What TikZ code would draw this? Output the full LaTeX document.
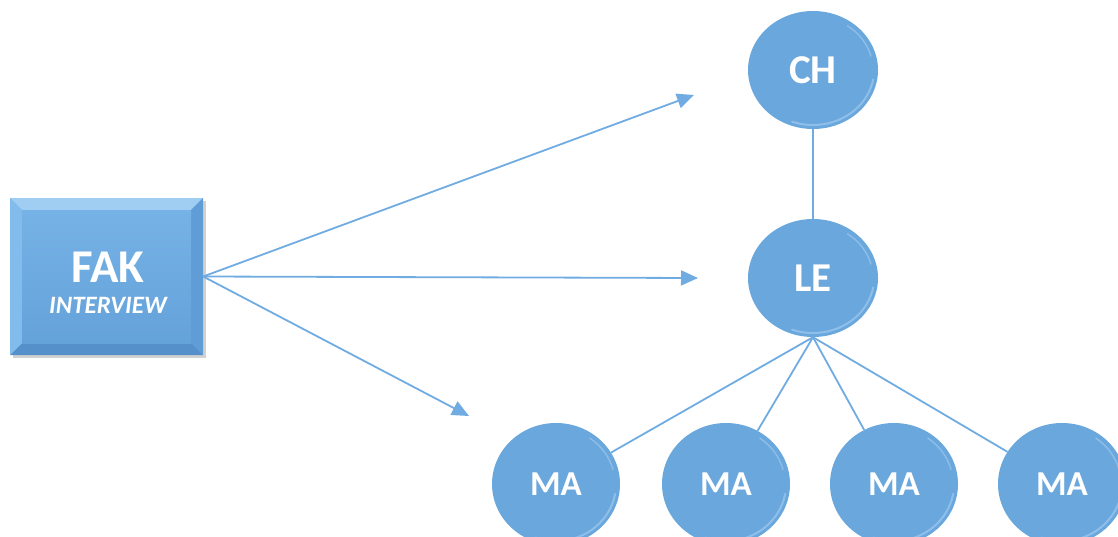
\documentclass[tikz,border=0pt]{standalone}
\usepackage{fontspec}
\setmainfont{Carlito}
\usetikzlibrary{shapes.geometric,arrows.meta,calc,shadows}
\definecolor{bfill}{RGB}{106,167,221}
\definecolor{bline}{RGB}{112,172,226}
\definecolor{bevtop}{RGB}{160,206,243}
\definecolor{bevleft}{RGB}{130,188,237}
\definecolor{bevright}{RGB}{96,156,213}
\definecolor{bevbot}{RGB}{86,144,203}
\definecolor{innertop}{RGB}{118,178,229}
\definecolor{innerbot}{RGB}{100,162,218}
\definecolor{rim}{RGB}{170,212,245}
\tikzset{
  ball/.style={ellipse, fill=bfill, draw=none, text=white, inner sep=0pt,
    font=\bfseries,
    path picture={
      \path let \p1=(path picture bounding box.north east),
                \p2=(path picture bounding box.south west),
                \n1={(\x1-\x2)/2-4pt}, \n2={(\y1-\y2)/2-4pt} in
        [draw=rim, line width=2pt, line cap=round, opacity=.55]
        ($(path picture bounding box.center)+({\n1*cos(-110)},{\n2*sin(-110)})$)
        arc[start angle=-110, end angle=-10, x radius=\n1, y radius=\n2];
      \path let \p1=(path picture bounding box.north east),
                \p2=(path picture bounding box.south west),
                \n1={(\x1-\x2)/2-5pt}, \n2={(\y1-\y2)/2-5pt} in
        [draw=rim, line width=1.5pt, line cap=round, opacity=.5]
        ($(path picture bounding box.center)+({\n1*cos(15)},{\n2*sin(15)})$)
        arc[start angle=15, end angle=55, x radius=\n1, y radius=\n2];
    }},
  big/.style={ball, minimum width=130pt, minimum height=118pt, font=\bfseries\fontsize{41}{41}\selectfont},
  small/.style={ball, minimum width=128pt, minimum height=122pt, font=\bfseries\fontsize{35}{35}\selectfont},
  conn/.style={draw=bline, line width=1.8pt},
  arr/.style={conn, -{Triangle[length=17pt,width=15pt]}},
  bevel/.style={rectangle, inner sep=0pt, fill=bfill,
    drop shadow={shadow xshift=3pt, shadow yshift=-3pt, opacity=.3, fill=black!60},
    path picture={
      \fill[bevtop] (path picture bounding box.north west) -- (path picture bounding box.north east)
        -- ([shift={(-12pt,-12pt)}]path picture bounding box.north east)
        -- ([shift={(12pt,-12pt)}]path picture bounding box.north west) -- cycle;
      \fill[bevright] (path picture bounding box.north east) -- (path picture bounding box.south east)
        -- ([shift={(-12pt,12pt)}]path picture bounding box.south east)
        -- ([shift={(-12pt,-12pt)}]path picture bounding box.north east) -- cycle;
      \fill[bevbot] (path picture bounding box.south east) -- (path picture bounding box.south west)
        -- ([shift={(12pt,12pt)}]path picture bounding box.south west)
        -- ([shift={(-12pt,12pt)}]path picture bounding box.south east) -- cycle;
      \fill[bevleft] (path picture bounding box.south west) -- (path picture bounding box.north west)
        -- ([shift={(12pt,-12pt)}]path picture bounding box.north west)
        -- ([shift={(12pt,12pt)}]path picture bounding box.south west) -- cycle;
      \shade[top color=innertop, bottom color=innerbot]
        ([shift={(12pt,-12pt)}]path picture bounding box.north west)
        rectangle ([shift={(-12pt,12pt)}]path picture bounding box.south east);
    }},
  lbl/.style={text=white, inner sep=0pt, anchor=base}
}
\begin{document}
\begin{tikzpicture}[x=1pt,y=-1pt]
\useasboundingbox (0,0) rectangle (1118,536);
\clip (0,0) rectangle (1118,536);

% FAK box
\node[bevel, minimum width=193pt, minimum height=157pt] (FAK) at (106.5,276.5) {};
\node[lbl, font=\bfseries\fontsize{47}{47}\selectfont] (FAKt) at (108,282) {FAK};
\node[lbl, font=\bfseries\itshape\fontsize{25}{25}\selectfont] (INTt) at (108,313) {INTERVIEW};

% circles
\node[big] (CH) at (813,70) {CH};
\node[big] (LE) at (813,278) {LE};
\node[small] (MA1) at (556,484) {MA};
\node[small] (MA2) at (726,484) {MA};
\node[small] (MA3) at (894,484) {MA};
\node[small] (MA4) at (1062,484) {MA};

% arrows
\coordinate (t1) at (694,95);
\coordinate (t2) at (698,278);
\coordinate (t3) at (469,416);
\draw[arr] (FAK.east) -- (t1);
\draw[arr] (FAK.east) -- (t2);
\draw[arr] (FAK.east) -- (t3);

% tree
\draw[conn] (CH) -- (LE);
\foreach \i in {1,2,3,4} {\draw[conn] (LE.south) -- (MA\i);}
\end{tikzpicture}
\end{document}
